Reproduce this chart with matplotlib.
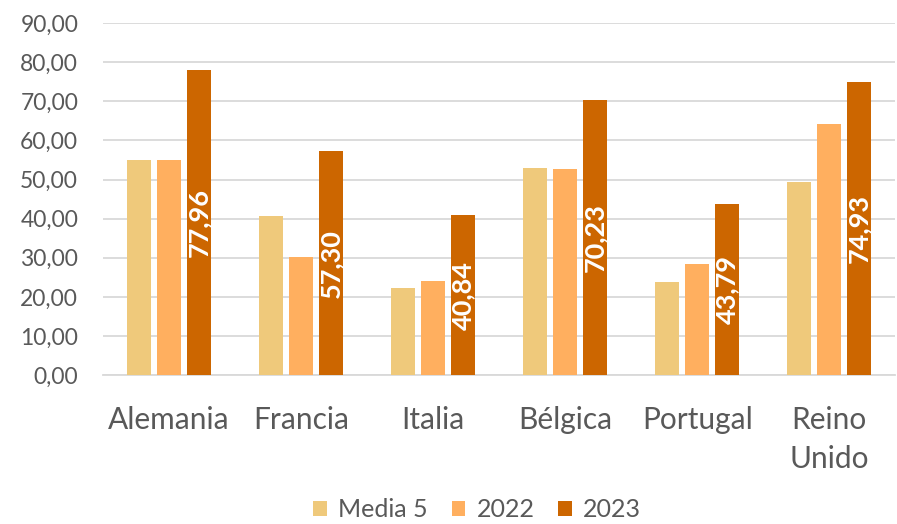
import numpy as np
import matplotlib
matplotlib.use("Agg")
import matplotlib.pyplot as plt

plt.rcParams['font.family'] = ['Lato', 'DejaVu Sans']

paises = ["Alemania", "Francia", "Italia", "Bélgica", "Portugal", "Reino\nUnido"]
media5 = [55.0, 40.8, 22.4, 52.9, 23.8, 49.4]
v2022 = [54.9, 30.1, 24.0, 52.8, 28.4, 64.2]
v2023 = [77.96, 57.30, 40.84, 70.23, 43.79, 74.93]

series = [("Media 5", media5, "#EFC97B"),
          ("2022", v2022, "#FFAF5F"),
          ("2023", v2023, "#CC6600")]

fig = plt.figure(figsize=(8.97, 5.24), dpi=100)
ax = fig.add_axes([0.115, 0.284, 0.883, 0.672])

x = np.arange(len(paises))
w = 0.18
step = 0.227
for i, (nombre, vals, col) in enumerate(series):
    bars = ax.bar(x + (i - 1) * step, vals, width=w, color=col, label=nombre, zorder=3)
    if nombre == "2023":
        for b, v in zip(bars, vals):
            ax.text(b.get_x() + b.get_width() / 2, v / 2, f"{v:.2f}".replace(".", ","),
                    rotation=90, ha="center", va="center", color="white",
                    fontsize=19.5, fontweight="bold", zorder=4)

ax.set_ylim(0, 90)
ax.set_xlim(-0.5, len(paises) - 0.5)
ax.set_yticks(np.arange(0, 91, 10))
ax.set_yticklabels([f"{t:.2f}".replace(".", ",") for t in np.arange(0, 91, 10)])
ax.yaxis.grid(True, color="#D9D9D9", linewidth=1.3, zorder=0)
ax.set_xticks(x)
ax.set_xticklabels(paises, fontsize=21.5, color="#595959", linespacing=1.5)
ax.tick_params(axis="y", labelsize=16.5, colors="#595959", length=0, pad=18)
ax.tick_params(axis="x", length=0, pad=22)
for s in ["top", "right", "left"]:
    ax.spines[s].set_visible(False)
ax.spines["bottom"].set_color("#D9D9D9")
ax.spines["bottom"].set_linewidth(1.3)

leg = fig.legend(loc="lower center", bbox_to_anchor=(0.532, -0.037), ncol=3, frameon=False,
                 fontsize=18, handlelength=0.55, handleheight=0.55, columnspacing=0.95,
                 handletextpad=0.45)
for t in leg.get_texts():
    t.set_color("#595959")

fig.savefig("out.png", dpi=100)
